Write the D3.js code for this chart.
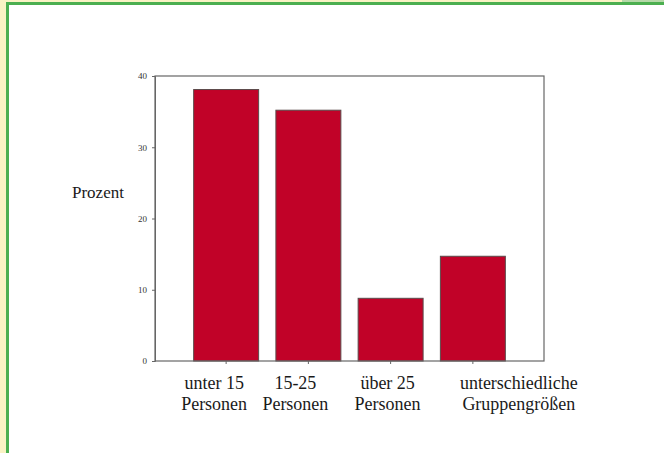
<!DOCTYPE html>
<html><head><meta charset="utf-8">
<script src="https://cdn.jsdelivr.net/npm/d3@7"></script>
<style>html,body{margin:0;padding:0;background:#fff;}svg{display:block;}</style>
</head><body>
<svg id="c" width="664" height="453"></svg>
<script>
const categories = [["unter 15","Personen"],["15-25","Personen"],["über 25","Personen"],["unterschiedliche","Gruppengrößen"]];
const values = [38.1, 35.2, 8.8, 14.7];
const yTicks = [0, 10, 20, 30, 40];
const yLabel = "Prozent";

// layout only: horizontal shift of each category label relative to its bar centre
const labelShift = [-12, -13, -3, 46];

const svg = d3.select("#c");
const FONT = "Liberation Serif, Times New Roman, serif";
// frame
svg.append("rect").attr("x",0).attr("y",0).attr("width",664).attr("height",453).attr("fill","#fff");
svg.append("rect").attr("x",0).attr("y",0).attr("width",7).attr("height",453).attr("fill","#faf3c4");
svg.append("rect").attr("x",0).attr("y",0).attr("width",664).attr("height",2).attr("fill","#faf3c4");
svg.append("rect").attr("x",622).attr("y",0).attr("width",42).attr("height",2).attr("fill","#b5d9a8");
svg.append("rect").attr("x",6).attr("y",2).attr("width",3).attr("height",451).attr("fill","#4caf50");
svg.append("rect").attr("x",6).attr("y",2).attr("width",658).attr("height",3).attr("fill","#4caf50");

const L=155, R=544, T=76, B=361;
const x = d3.scaleBand().domain(d3.range(categories.length)).range([L,R]).paddingInner(0.21).paddingOuter(0.47);
const y = d3.scaleLinear().domain([0,40]).range([B,T]);

// bars
svg.selectAll("rect.bar").data(values).join("rect").attr("class","bar")
  .attr("x",(d,i)=>x(i)).attr("width",x.bandwidth())
  .attr("y",d=>y(d)).attr("height",d=>B-y(d))
  .attr("fill","#c10228").attr("stroke","#5a4a4a").attr("stroke-width",1);

// frame box
svg.append("rect").attr("x",L).attr("y",T).attr("width",R-L).attr("height",B-T)
  .attr("fill","none").attr("stroke","#666").attr("stroke-width",1.2);

// y axis
const ya = svg.append("g").attr("transform",`translate(${L},0)`)
  .call(d3.axisLeft(y).tickValues(yTicks).tickSize(3).tickPadding(5).tickFormat(d3.format("d")));
ya.select(".domain").attr("stroke","#666");
ya.selectAll("line").attr("stroke","#666");
ya.selectAll("text").attr("font-family",FONT).attr("font-size",9).attr("fill","#333");

// x axis
const xa = svg.append("g").attr("transform",`translate(0,${B})`)
  .call(d3.axisBottom(x).tickSize(3).tickFormat(""));
xa.select(".domain").remove();
xa.selectAll("line").attr("stroke","#666");

// category labels
const lab = svg.append("g");
categories.forEach((c,i)=>{
  const cx = x(i)+x.bandwidth()/2+labelShift[i];
  const t = lab.append("text").attr("x",cx).attr("y",389)
    .attr("text-anchor","middle").attr("font-family",FONT)
    .attr("font-size",18).attr("fill","#1a1a1a");
  c.forEach((s,j)=>t.append("tspan").attr("x",cx).attr("dy",j===0?0:21).text(s));
});

svg.append("text").attr("x",72).attr("y",198).attr("font-family",FONT)
  .attr("font-size",17).attr("fill","#1a1a1a").text(yLabel);
</script>
</body></html>
